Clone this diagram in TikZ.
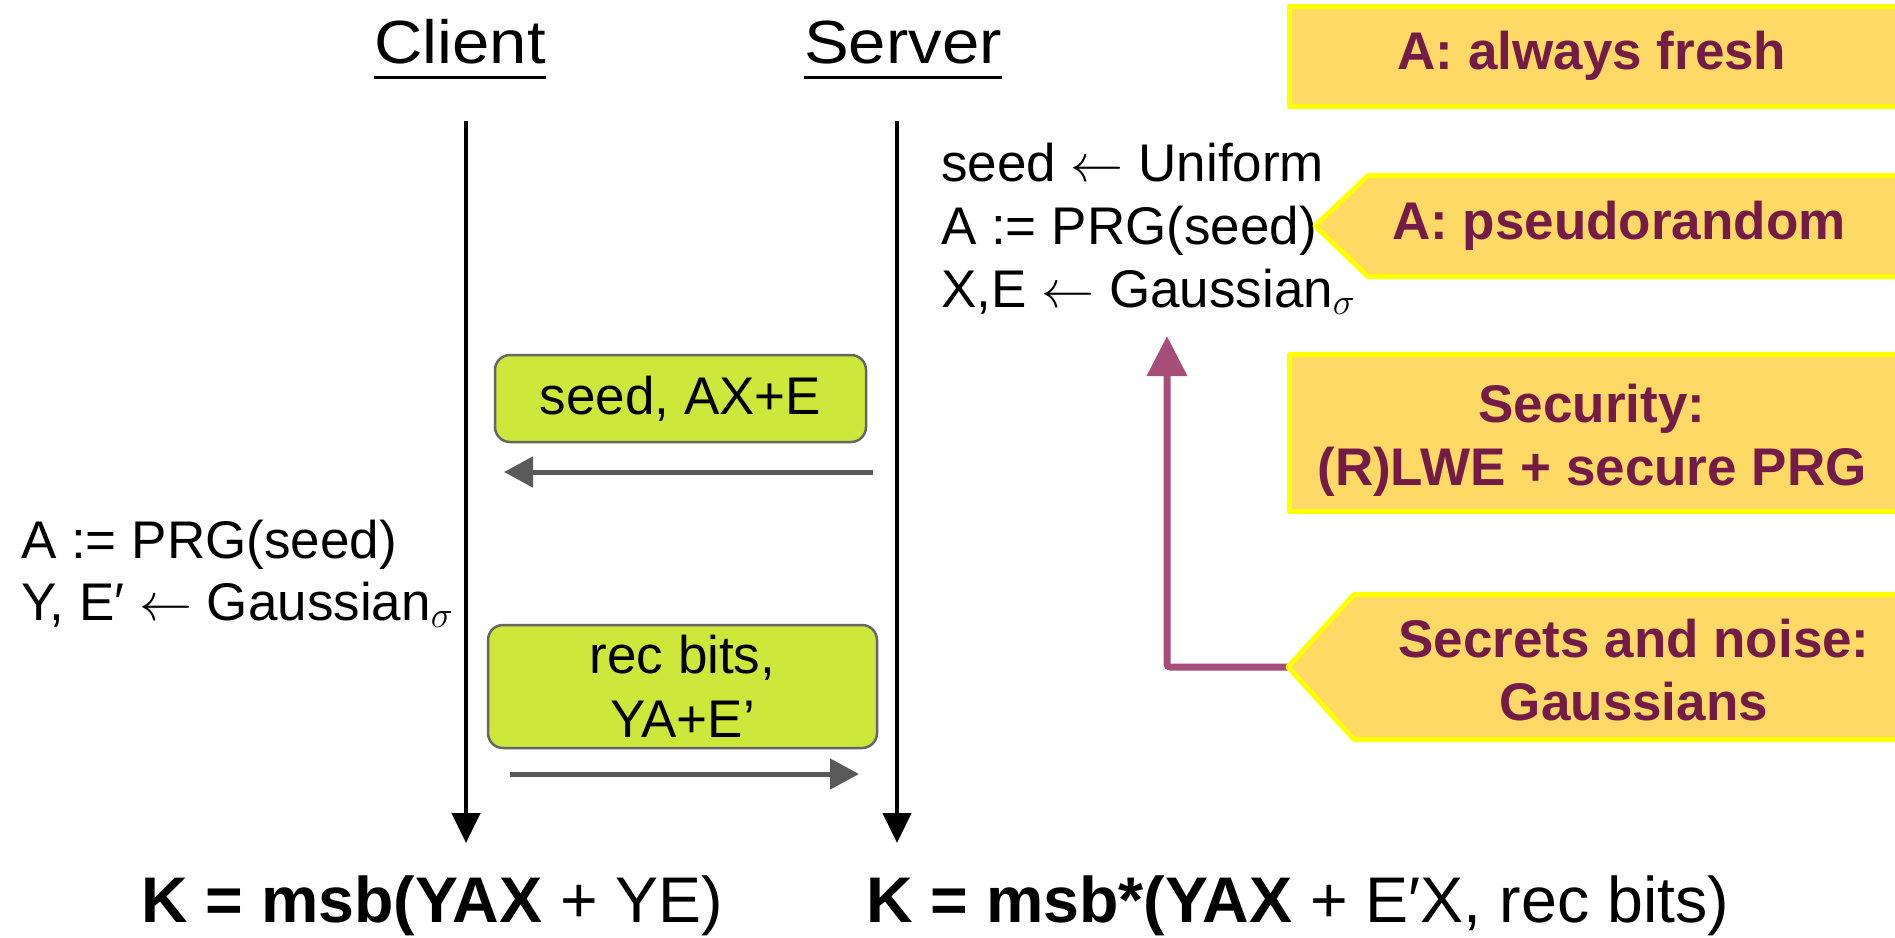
\RequirePackage{fix-cm}
\documentclass[tikz,border=0pt]{standalone}
\usepackage{fontspec}
\setmainfont{Liberation Sans}
\newfontfamily\headfont[FakeStretch=1.1]{Liberation Sans}
\usetikzlibrary{arrows.meta}

\definecolor{boxyellow}{HTML}{FFD966}
\definecolor{rimyellow}{HTML}{FFFF00}
\definecolor{notepurple}{HTML}{741B47}
\definecolor{linkpurple}{HTML}{A64D79}
\definecolor{msggreen}{HTML}{CDE83A}
\definecolor{msgrim}{HTML}{666666}
\definecolor{flowgray}{HTML}{595959}

\begin{document}
\begin{tikzpicture}[x=1pt,y=-1pt,
  body/.style={font=\fontsize{53}{63}\selectfont, inner sep=0pt},
  head/.style={font=\headfont\fontsize{61}{72}\selectfont, inner sep=0pt},
  keyline/.style={font=\fontsize{64.5}{72}\selectfont, inner sep=0pt},
  note/.style={font=\fontsize{53}{63}\selectfont\bfseries, text=notepurple,
               align=center, inner sep=0pt},
  notebox/.style={fill=boxyellow, draw=rimyellow, line width=5pt, line join=round},
  msg/.style={draw=msgrim, line width=2.5pt, fill=msggreen, rounded corners=15pt,
              font=\fontsize{53}{64}\selectfont, align=center, inner sep=0pt},
  flow/.style={draw=flowgray, line width=5pt, -{Triangle[length=29pt,width=30pt]}},
  life/.style={line width=4.5pt, -{Triangle[length=30pt,width=28pt]}},
  link/.style={draw=linkpurple, line width=7pt, rounded corners=3pt,
               -{Triangle[length=40pt,width=39pt]}}]

\useasboundingbox (0,0) rectangle (1895,937);
\clip (0,0) rectangle (1895,937);

% party headings
\node[head, anchor=base west] (client) at (374,63) {Client};
\node[head, anchor=base west] (server) at (804,63) {Server};
\draw[line width=3pt] ([yshift=-14pt]client.base west) -- ([yshift=-14pt]client.base east);
\draw[line width=3pt] ([yshift=-14pt]server.base west) -- ([yshift=-14pt]server.base east);

% lifelines
\coordinate (cTop) at (466,121);
\coordinate (cEnd) at (466,843);
\coordinate (sTop) at (897,121);
\coordinate (sEnd) at (897,843);
\draw[life] (cTop) -- (cEnd);
\draw[life] (sTop) -- (sEnd);

% server computations
\node[body, anchor=base west] (s1) at (941,181) {seed $\leftarrow$ Uniform};
\node[body, anchor=base west] (s2) at (941,244) {A := PRG(seed)};
\node[body, anchor=base west] (s3) at (941,307) {X,E $\leftarrow$ Gaussian$_\sigma$};

% client computations
\node[body, anchor=base west] (c1) at (21,558) {A := PRG(seed)};
\node[body, anchor=base west] (c2) at (21,620) {Y, E′ $\leftarrow$ Gaussian$_\sigma$};

% messages
\node[msg, minimum width=371pt, minimum height=87pt] (m1) at (680.5,398.5) {seed, AX+E};
\coordinate (m1from) at (873,472);
\coordinate (m1to) at (504,472);
\draw[flow] (m1from) -- (m1to);

\node[msg, minimum width=389pt, minimum height=123pt] (m2) at (682.5,686.5) {rec bits,\\YA+E’};
\coordinate (m2from) at (510,774);
\coordinate (m2to) at (859,774);
\draw[flow] (m2from) -- (m2to);

% shared keys
\node[keyline, anchor=base west] (kc) at (141,922) {\textbf{K = msb(YAX} + YE)};
\node[keyline, anchor=base west] (ks) at (866,922) {\textbf{K = msb*(YAX} + E′X, rec bits)};

% link from the noise note to the sampling step
\coordinate (secTip) at (1288,667);
\coordinate (gauss) at (1167,336);
\draw[link] (secTip) -| (gauss);

% remarks
\path[notebox] (1289.5,6.5) rectangle (1905,106.5);
\node[note] (fresh) at (1592,56) {A: always fresh};

\path[notebox] (1315,226) -- (1368,175.5) -- (1905,175.5) -- (1905,276.5) -- (1368,276.5) -- cycle;
\node[note] (pseudo) at (1619,226) {A: pseudorandom};

\path[notebox] (1289.5,354.5) rectangle (1905,511.5);
\node[note] (security) at (1592,440) {Security:\\(R)LWE + secure PRG};

\path[notebox] (secTip) -- (1354,594.5) -- (1905,594.5) -- (1905,739.5) -- (1354,739.5) -- cycle;
\node[note] (secrets) at (1634,670) {Secrets and noise:\\Gaussians};
\end{tikzpicture}
\end{document}
